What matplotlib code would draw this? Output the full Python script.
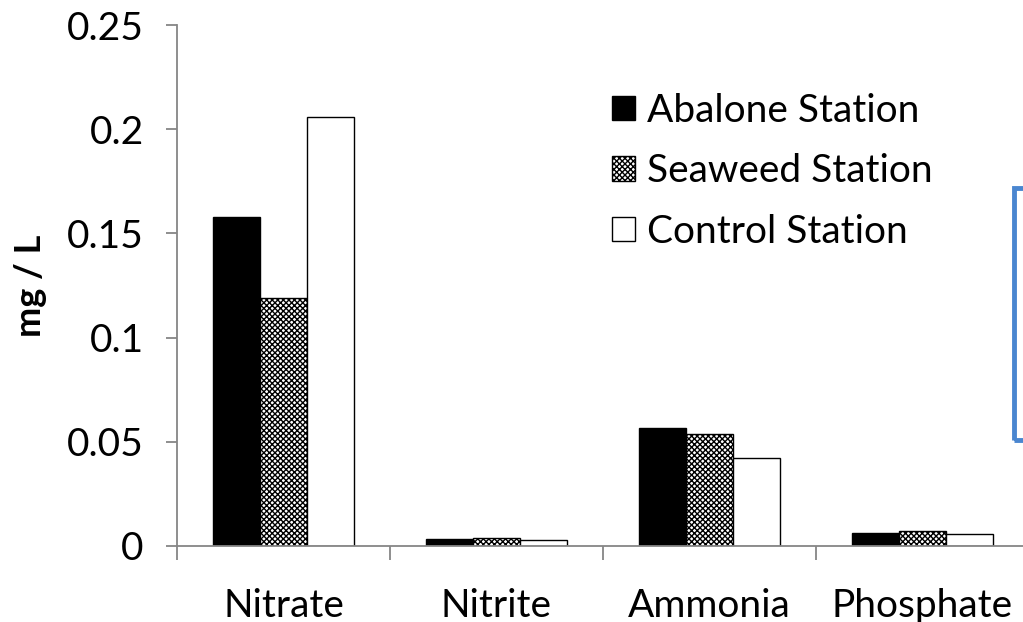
import matplotlib
matplotlib.use("Agg")
import matplotlib.pyplot as plt
import numpy as np
from matplotlib.patches import Rectangle

categories = ["Nitrate", "Nitrite", "Ammonia", "Phosphate"]
series_names = ["Abalone Station", "Seaweed Station", "Control Station"]
abalone = [0.158, 0.0034, 0.0567, 0.0061]
seaweed = [0.119, 0.0038, 0.0538, 0.0071]
control = [0.206, 0.0027, 0.0422, 0.0056]
yticks = [0, 0.05, 0.1, 0.15, 0.2, 0.25]
ytick_labels = ["0", "0.05", "0.1", "0.15", "0.2", "0.25"]

plt.rcParams['font.family'] = ['Lato', 'DejaVu Sans']
plt.rcParams['hatch.linewidth'] = 1.0

fig = plt.figure(figsize=(10.23, 6.22), dpi=100)
W, H = 1023, 622
ax = fig.add_axes([177 / W, (H - 546) / H, 852 / W, 521 / H])

x = np.arange(len(categories))
bw = 0.222
styles = [dict(facecolor="black", edgecolor="black", hatch=None),
          dict(facecolor="white", edgecolor="black", hatch="xxxxxx"),
          dict(facecolor="white", edgecolor="black", hatch=None)]
handles = []
for i, (vals, st) in enumerate(zip([abalone, seaweed, control], styles)):
    b = ax.bar(x + (i - 1) * bw, vals, width=bw, linewidth=1.0,
               label=series_names[i], **st)
    handles.append(b)

ax.set_xlim(-0.5, len(categories) - 0.5)
ax.set_ylim(0, 0.25)
ax.set_yticks(yticks)
ax.set_yticklabels(ytick_labels)
ax.set_xticks(x)
ax.set_xticklabels(categories)
ax.set_xticks(np.arange(len(categories) + 1) - 0.5, minor=True)
ax.tick_params(axis='x', which='major', length=0, pad=30, labelsize=28)
ax.tick_params(axis='x', which='minor', length=10, color="#868686", width=1.3)
ax.tick_params(axis='y', length=8, color="#868686", width=1.3, pad=16, labelsize=28)

for s in ["top", "right"]:
    ax.spines[s].set_visible(False)
for s in ["left", "bottom"]:
    ax.spines[s].set_color("#868686")
    ax.spines[s].set_linewidth(1.3)

ax.set_ylabel("mg / L", fontsize=26, fontweight="bold", labelpad=14)

leg = ax.legend(handles=handles, loc="upper left",
                bbox_to_anchor=(596 / W, (H - 77) / H), bbox_transform=fig.transFigure,
                frameon=False, fontsize=28, handlelength=0.6, handleheight=0.6,
                handletextpad=0.3, labelspacing=0.63, borderaxespad=0)

# partially visible text box at the right edge
fig.patches.append(Rectangle((1014 / W, (H - 440) / H), 60 / W, 252 / H,
                             transform=fig.transFigure, fill=False,
                             edgecolor="#4A86D0", linewidth=3.5))

fig.savefig("out.png", dpi=100)
